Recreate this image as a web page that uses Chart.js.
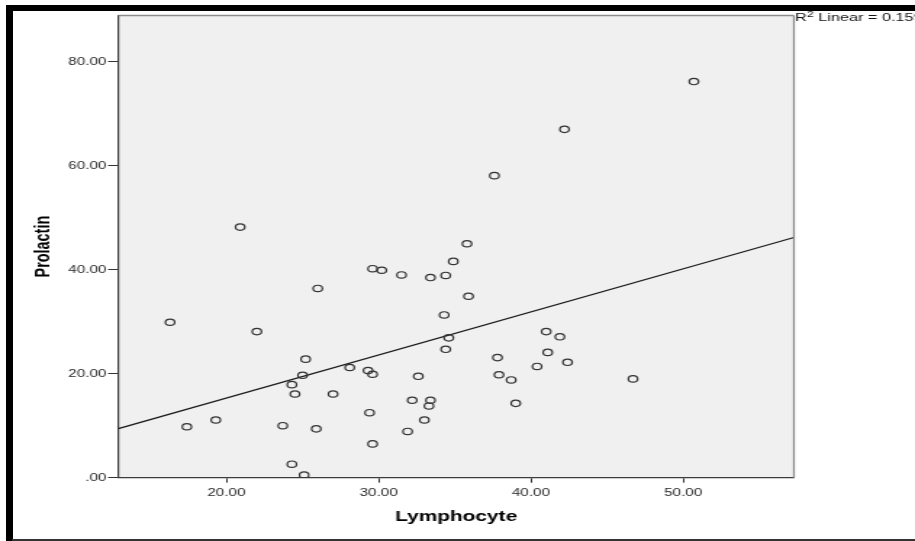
<!DOCTYPE html>
<html><head><meta charset="utf-8">
<script src="https://cdn.jsdelivr.net/npm/chart.js@4.4.1/dist/chart.umd.min.js"></script>
<style>
html,body{margin:0;padding:0;background:#fff;}
#wrap{position:relative;width:915px;height:541px;overflow:hidden;background:#fff;}
#c{position:absolute;left:0;top:0;}
.f{position:absolute;background:#000;}
</style></head><body>
<div id="wrap">
<canvas id="c" width="631" height="541" style="width:915px;height:541px"></canvas>
<div class="f" style="left:6px;top:5px;width:909px;height:6px"></div>
<div class="f" style="left:6px;top:5px;width:6.5px;height:536px"></div>
<div class="f" style="left:12px;top:539px;width:903px;height:1.5px;background:#333"></div>
</div>
<script>
// Data
const lymphocyte = [50.7, 42.2, 37.6, 20.9, 35.8, 34.9, 29.6, 30.2, 31.5, 33.4,
  34.4, 26.0, 35.9, 34.3, 16.3, 22.0, 41.0, 34.6, 41.9, 34.4,
  41.1, 25.2, 37.8, 42.4, 40.4, 28.1, 29.3, 29.6, 25.0, 37.9,
  32.6, 38.7, 46.7, 24.3, 24.5, 27.0, 32.2, 33.4, 39.0, 33.3,
  29.4, 33.0, 19.3, 17.4, 23.7, 25.9, 31.9, 29.6, 24.3, 25.1];
const prolactin = [76.2, 67.0, 58.1, 48.2, 45.0, 41.6, 40.2, 39.9, 39.0, 38.5,
  38.9, 36.4, 34.9, 31.3, 29.9, 28.1, 28.1, 26.9, 27.1, 24.7,
  24.1, 22.8, 23.1, 22.2, 21.4, 21.2, 20.6, 19.9, 19.7, 19.8,
  19.5, 18.8, 19.0, 17.9, 16.1, 16.1, 14.9, 14.9, 14.3, 13.8,
  12.5, 11.1, 11.1, 9.8, 10.0, 9.4, 8.9, 6.5, 2.6, 0.5];
// Fit line endpoints
const fitX = [12.9, 57.27];
const fitY = [9.44, 46.2];
const rSquared = 0.159;
const xTicks = [20, 30, 40, 50];
const yTicks = [0, 20, 40, 60, 80];
const xRange = [12.9, 57.27];
const yRange = [0, 88.9];

const FONT = '"Liberation Sans", Arial, sans-serif';
Chart.defaults.font.family = FONT;

const fmt = v => (v === 0 ? '.00' : Number(v).toFixed(2));

const framePlugin = {
  id: 'frame',
  beforeDraw(c) {
    const {ctx, chartArea: a} = c;
    ctx.save();
    ctx.fillStyle = '#f0f0f0';
    ctx.fillRect(a.left, a.top, a.right - a.left, a.bottom - a.top);
    ctx.restore();
  },
  afterDraw(c) {
    const {ctx, chartArea: a} = c;
    ctx.save();
    ctx.strokeStyle = '#8c8c8c';
    ctx.lineWidth = 1.5;
    ctx.beginPath();
    ctx.moveTo(a.left, a.top);
    ctx.lineTo(a.right, a.top);
    ctx.stroke();
    ctx.lineWidth = 1.3;
    ctx.beginPath();
    ctx.moveTo(a.right, a.top);
    ctx.lineTo(a.right, a.bottom);
    ctx.stroke();
    // R squared label
    ctx.fillStyle = '#111';
    ctx.textAlign = 'left';
    ctx.textBaseline = 'alphabetic';
    let x = a.right + 0.8;
    const yb = 21;
    ctx.font = '11.2px ' + FONT;
    ctx.fillText('R', x, yb);
    x += ctx.measureText('R').width + 0.2;
    ctx.font = '8.4px ' + FONT;
    ctx.fillText('2', x, yb - 4.3);
    x += ctx.measureText('2').width;
    ctx.font = '11.2px ' + FONT;
    ctx.fillText(' Linear = ' + rSquared.toFixed(3), x, yb);
    ctx.restore();
  }
};

new Chart(document.getElementById('c'), {
  type: 'scatter',
  data: {
    datasets: [
      {
        type: 'scatter',
        data: lymphocyte.map((x, i) => ({x: x, y: prolactin[i]})),
        pointStyle: 'circle',
        pointRadius: 3.2,
        pointBorderWidth: 1.2,
        pointBorderColor: '#333',
        pointBackgroundColor: 'rgba(0,0,0,0)',
        order: 1
      },
      {
        type: 'line',
        data: fitX.map((x, i) => ({x: x, y: fitY[i]})),
        borderColor: '#1a1a1a',
        borderWidth: 1.2,
        pointRadius: 0,
        fill: false,
        tension: 0,
        order: 2
      }
    ]
  },
  options: {
    responsive: false,
    devicePixelRatio: 1,
    animation: false,
    events: [],
    layout: {padding: {left: 0, top: 15.5, right: 83.5, bottom: 0}},
    plugins: {legend: {display: false}, tooltip: {enabled: false}},
    scales: {
      x: {
        type: 'linear',
        min: xRange[0], max: xRange[1],
        afterBuildTicks: s => { s.ticks = xTicks.map(v => ({value: v})); },
        afterFit: s => { s.height = 63.3; },
        grid: {drawOnChartArea: false, drawTicks: true, tickLength: 5, tickColor: '#333', tickWidth: 1},
        border: {display: true, color: '#3c3c3c', width: 1.3},
        ticks: {padding: 4, color: '#2a2a2a', font: {size: 10.5}, maxRotation: 0, autoSkip: false, callback: fmt},
        title: {display: true, text: 'Lymphocyte', color: '#000', font: {size: 14.4, weight: 'bold'}, padding: {top: 0, bottom: 15}}
      },
      y: {
        type: 'linear',
        min: yRange[0], max: yRange[1],
        afterBuildTicks: s => { s.ticks = yTicks.map(v => ({value: v})); },
        afterFit: s => { s.width = 81.6; },
        grid: {drawOnChartArea: false, drawTicks: true, tickLength: 7, tickColor: '#333', tickWidth: 1},
        border: {display: true, color: '#3c3c3c', width: 1.2},
        ticks: {padding: 1.2, color: '#2a2a2a', font: {size: 10.5}, autoSkip: false, callback: fmt},
        title: {display: true, text: 'Prolactin', color: '#000', font: {size: 14.4, weight: 'bold'}, padding: {top: 21.7, bottom: 0}}
      }
    }
  },
  plugins: [framePlugin]
});
</script>
</body></html>
